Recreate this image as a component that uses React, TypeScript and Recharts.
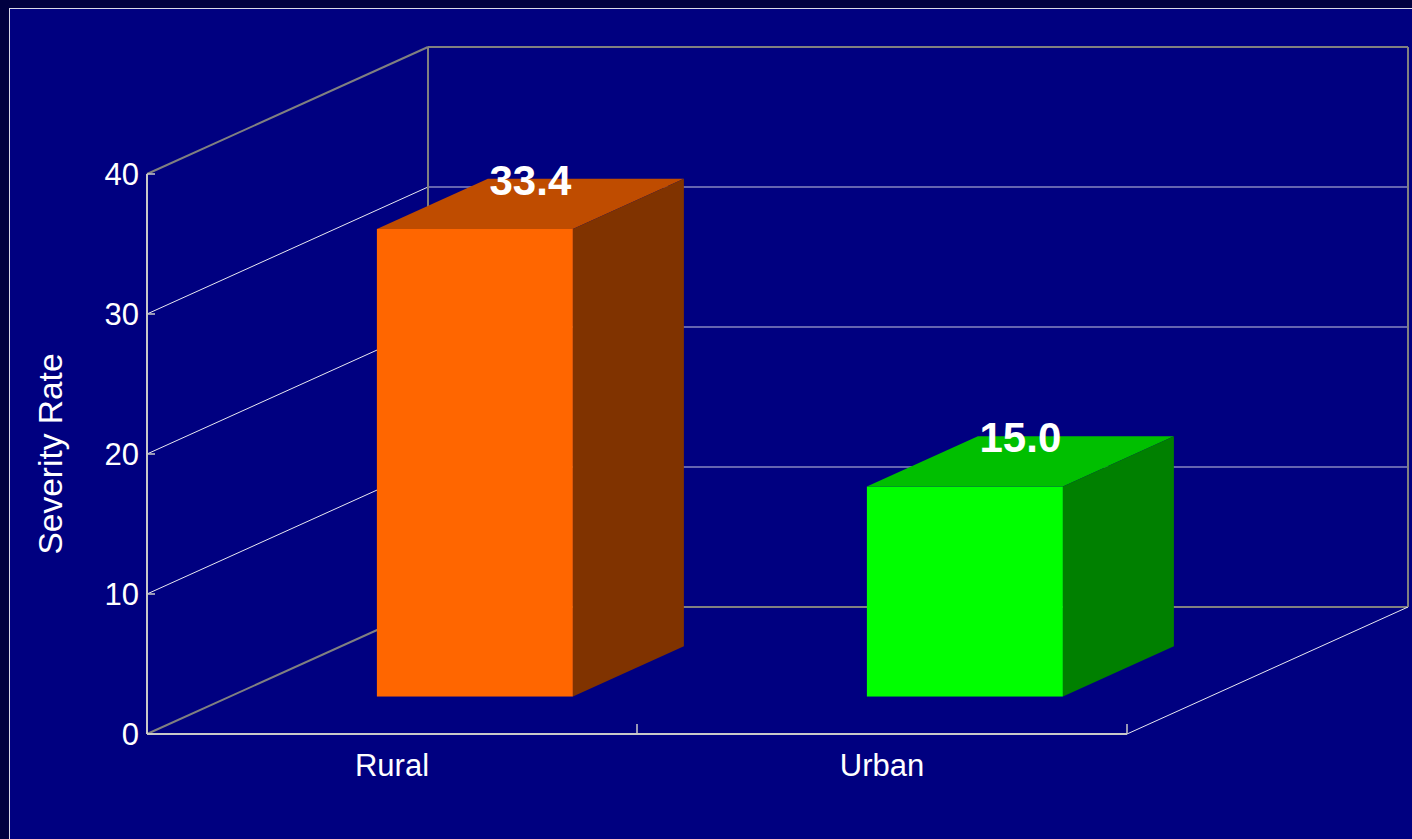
import { BarChart, Bar, XAxis, YAxis, CartesianGrid } from 'recharts';

const CATEGORIES = ['Rural', 'Urban'];
const SEVERITY = [33.4, 15.0];
const Y_TICKS = [0, 10, 20, 30, 40];

const FRONT_COLORS = ['#ff6600', '#00ff00'];
const TOP_COLORS = ['#bf4c00', '#00bf00'];
const SIDE_COLORS = ['#803300', '#008000'];

const data = CATEGORIES.map((name, i) => ({ name, value: SEVERITY[i] }));

// depth vector of the 3D box (front plane -> back wall)
const DEPTH_X = 281;
const DEPTH_Y = -127;
// bars sit between these fractions of the depth
const BAR_DEPTH_START = 0.295;
const BAR_DEPTH = 0.395;

const OUTLINE = '#808080';
const GRID = '#e8e8f0';
const AXIS = '#c8c8c8';

const FONT = '"Liberation Sans", Arial, sans-serif';

// walls and floor, drawn once per horizontal grid line
const WallLine = (props: any) => {
  const { x1, x2, y1, index, y, height, horizontalPoints } = props;
  const pts: number[] = horizontalPoints || [y1];
  const top = y ?? Math.min(...pts);
  const bottom = y != null && height != null ? y + height : Math.max(...pts);
  const isTop = Math.abs(y1 - top) < 0.5;
  const isBottom = Math.abs(y1 - bottom) < 0.5;
  const color = isTop || isBottom ? OUTLINE : GRID;
  const w = isTop || isBottom ? 2 : 1;
  const bx1 = x1 + DEPTH_X;
  const bx2 = x2 + DEPTH_X;
  const by = y1 + DEPTH_Y;
  const bandW = (x2 - x1) / CATEGORIES.length;

  return (
    <g key={`wall-${index}`}>
      {/* side wall */}
      <line x1={x1} y1={y1} x2={bx1} y2={by} stroke={color} strokeWidth={w} />
      {/* back wall */}
      <line
        x1={bx1}
        y1={by}
        x2={bx2}
        y2={by}
        stroke={isTop || isBottom ? OUTLINE : '#c8c8e0'}
        strokeWidth={isTop || isBottom ? 2 : 1.2}
      />
      {/* small inward tick on the value axis */}
      <line x1={x1} y1={y1} x2={x1 + 8} y2={y1} stroke={AXIS} strokeWidth={1.5} />
      {isTop && (
        <>
          <line x1={bx1} y1={top + DEPTH_Y} x2={bx1} y2={bottom + DEPTH_Y} stroke={OUTLINE} strokeWidth={2} />
          <line x1={bx2} y1={top + DEPTH_Y} x2={bx2} y2={bottom + DEPTH_Y} stroke={OUTLINE} strokeWidth={2} />
        </>
      )}
      {isBottom && (
        <>
          <line x1={x2} y1={y1} x2={bx2} y2={by} stroke={GRID} strokeWidth={1} />
          {CATEGORIES.map((c, i) => (
            <line
              key={c}
              x1={x1 + bandW * (i + 1)}
              y1={y1}
              x2={x1 + bandW * (i + 1)}
              y2={y1 - 10}
              stroke={AXIS}
              strokeWidth={1.5}
            />
          ))}
        </>
      )}
    </g>
  );
};

const Box3D = (props: any) => {
  const { x, y, width, height, index, payload } = props;
  const fx = x + DEPTH_X * BAR_DEPTH_START;
  const fy = y + DEPTH_Y * BAR_DEPTH_START;
  const bx = DEPTH_X * BAR_DEPTH;
  const by = DEPTH_Y * BAR_DEPTH;
  const value = payload?.value ?? SEVERITY[index];

  return (
    <g>
      <rect x={fx} y={fy} width={width} height={height} fill={FRONT_COLORS[index]} />
      <polygon
        points={`${fx},${fy} ${fx + bx},${fy + by} ${fx + width + bx},${fy + by} ${fx + width},${fy}`}
        fill={TOP_COLORS[index]}
      />
      <polygon
        points={`${fx + width},${fy} ${fx + width + bx},${fy + by} ${fx + width + bx},${fy + height + by} ${fx + width},${fy + height}`}
        fill={SIDE_COLORS[index]}
      />
      <text
        x={fx + width / 2 + bx / 2}
        y={fy + by + 16}
        textAnchor="middle"
        fill="#ffffff"
        fontSize={42}
        fontWeight="bold"
        fontFamily={FONT}
      >
        {value.toFixed(1)}
      </text>
    </g>
  );
};

export default function App() {
  return (
    <div
      style={{
        position: 'absolute',
        left: 0,
        top: 0,
        width: 1412,
        height: 839,
        overflow: 'hidden',
        background: '#000040',
      }}
    >
      {/* slide frame */}
      <div
        style={{
          position: 'absolute',
          left: 9,
          top: 8,
          width: 1440,
          height: 880,
          background: '#000080',
          borderTop: '1.5px solid #d8d8e8',
          borderLeft: '1.5px solid #d8d8e8',
        }}
      />
      <div style={{ position: 'absolute', left: 0, top: 0 }}>
        <BarChart
          width={1412}
          height={839}
          data={data}
          margin={{ top: 174, right: 285, bottom: 75, left: 87 }}
          barCategoryGap="30%"
          style={{ fontFamily: FONT }}
        >
          <CartesianGrid vertical={false} horizontal={(p: any) => <WallLine {...p} />} />
          <XAxis
            dataKey="name"
            tickLine={false}
            axisLine={{ stroke: AXIS, strokeWidth: 2 }}
            tick={{ fill: '#ffffff', fontSize: 31, fontFamily: FONT }}
            tickMargin={14}
            height={30}
          />
          <YAxis
            domain={[0, 40]}
            ticks={Y_TICKS}
            width={60}
            tickLine={false}
            axisLine={{ stroke: AXIS, strokeWidth: 2 }}
            tick={{ fill: '#ffffff', fontSize: 31, fontFamily: FONT }}
            label={{
              content: ({ viewBox }: any) => {
                const cx = viewBox.x - 25;
                const cy = viewBox.y + viewBox.height / 2;
                return (
                  <text
                    x={cx}
                    y={cy}
                    transform={`rotate(-90, ${cx}, ${cy})`}
                    textAnchor="middle"
                    fill="#ffffff"
                    fontSize={33.5}
                    fontFamily={FONT}
                  >
                    Severity Rate
                  </text>
                );
              },
            }}
          />
          <Bar dataKey="value" shape={(p: any) => <Box3D {...p} />} isAnimationActive={false} />
        </BarChart>
      </div>
    </div>
  );
}
